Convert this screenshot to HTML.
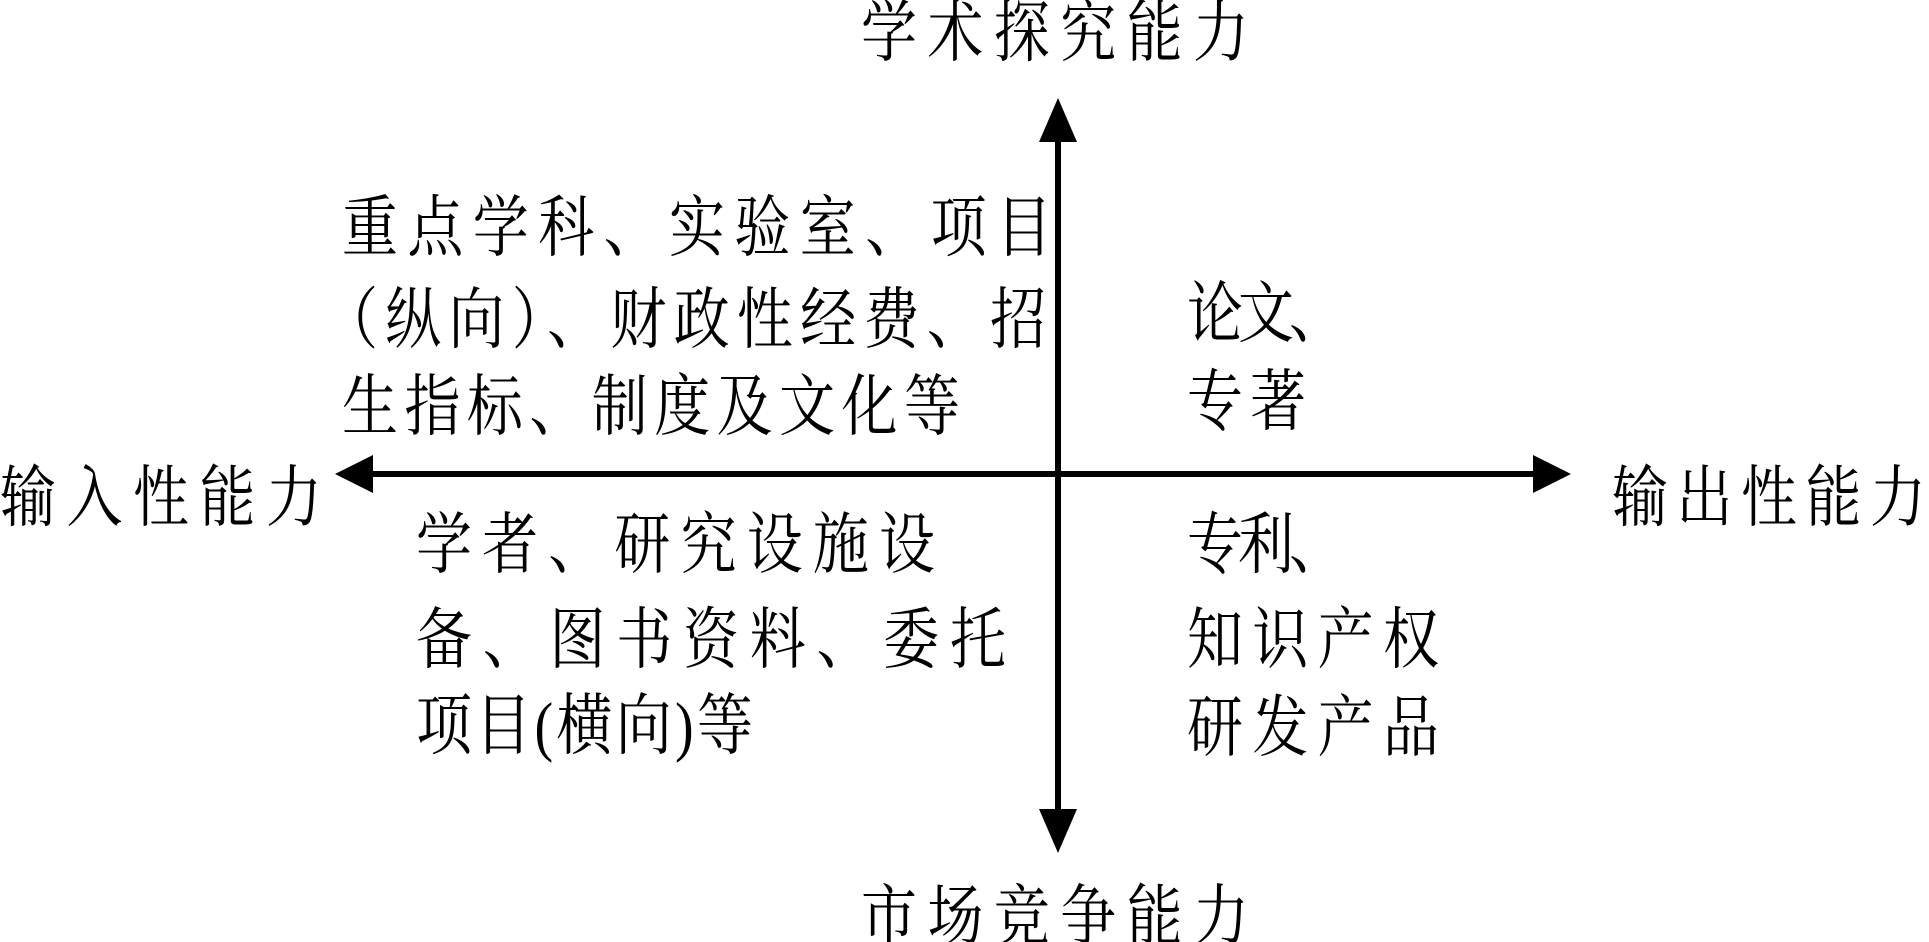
<!DOCTYPE html>
<html><head><meta charset="utf-8"><style>
html,body{margin:0;padding:0;background:#fff;}
svg{display:block;}
text{font-family:"Liberation Serif","Noto Serif CJK SC",serif;font-size:56px;fill:#000;dominant-baseline:central;}
</style></head><body>
<svg width="1929" height="942" viewBox="0 0 1929 942" xmlns="http://www.w3.org/2000/svg">
<line x1="1058" y1="135" x2="1058" y2="815" stroke="#000" stroke-width="6"/>
<line x1="365" y1="474" x2="1540" y2="474" stroke="#000" stroke-width="6"/>
<polygon points="1058,98 1039,142 1077,142" fill="#000"/>
<polygon points="1058,853 1039,809 1077,809" fill="#000"/>
<polygon points="335,474 373,455 373,493" fill="#000"/>
<polygon points="1571,474 1533,455 1533,493" fill="#000"/>
<g transform="translate(0,34) scale(1,1.2)"><text x="861" y="0" textLength="388">学术探究能力</text></g>
<g transform="translate(0,918) scale(1,1.2)"><text x="861" y="0" textLength="388">市场竞争能力</text></g>
<g transform="translate(0,499) scale(1,1.2)"><text x="0" y="0" textLength="322">输入性能力</text></g>
<g transform="translate(0,499) scale(1,1.2)"><text x="1612" y="0" textLength="314">输出性能力</text></g>
<g transform="translate(0,229) scale(1,1.2)"><text x="342" y="0" textLength="710">重点学科、实验室、项目</text></g>
<g transform="translate(0,321) scale(1,1.2)"><text x="322" y="0" textLength="724">（纵向）、财政性经费、招</text></g>
<g transform="translate(0,408) scale(1,1.2)"><text x="342" y="0" textLength="618">生指标、制度及文化等</text></g>
<g transform="translate(0,546) scale(1,1.2)"><text x="416" y="0" textLength="519">学者、研究设施设</text></g>
<g transform="translate(0,641) scale(1,1.2)"><text x="416" y="0" textLength="590">备、图书资料、委托</text></g>
<g transform="translate(0,727) scale(1,1.2)"><text x="416" y="0" textLength="337">项目(横向)等</text></g>
<g transform="translate(0,315) scale(1,1.2)"><text x="1187" y="0" textLength="158">论文、</text></g>
<g transform="translate(0,403) scale(1,1.2)"><text x="1187" y="0" textLength="119">专著</text></g>
<g transform="translate(0,546) scale(1,1.2)"><text x="1187" y="0" textLength="158">专利、</text></g>
<g transform="translate(0,641) scale(1,1.2)"><text x="1187" y="0" textLength="252">知识产权</text></g>
<g transform="translate(0,729) scale(1,1.2)"><text x="1187" y="0" textLength="252">研发产品</text></g>
</svg>
</body></html>
